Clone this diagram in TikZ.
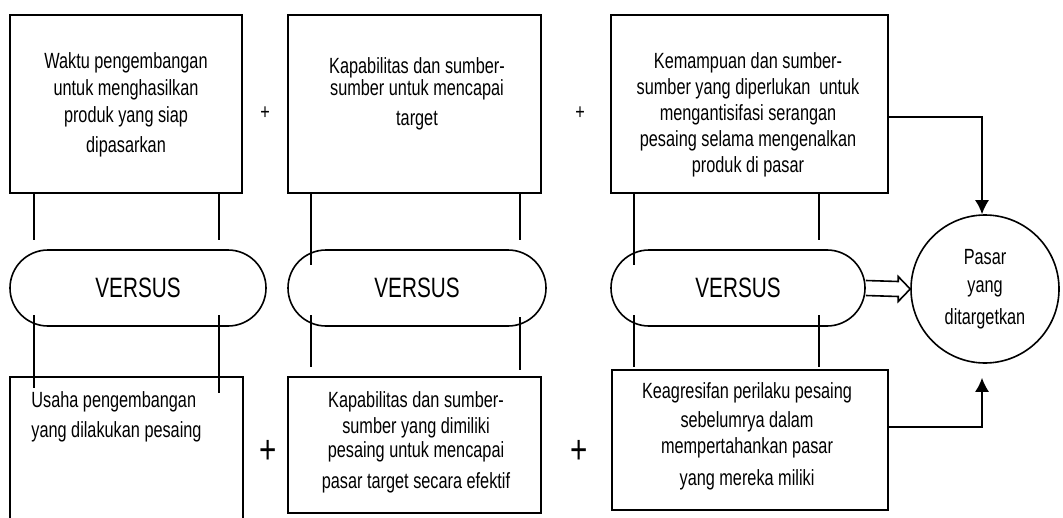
\documentclass[tikz,border=0pt]{standalone}
\usepackage{fontspec}
\setmainfont{Liberation Sans}[FakeStretch=0.74]
\usepackage{tikz}
\usetikzlibrary{calc}
\usetikzlibrary{arrows.meta}
\usetikzlibrary{shapes.misc}
\tikzset{
    kotak/.style={draw, line width=0.8pt, inner sep=0pt},
    teks/.style={align=center, inner sep=0pt, font=\fontsize{11}{13.5}\selectfont},
    lonjong/.style={draw, line width=0.8pt, rounded rectangle, minimum height=38pt, inner sep=0pt, font=\fontsize{14}{16}\selectfont},
    garis/.style={line width=0.8pt},
    panah/.style={line width=0.8pt, -{Latex[length=7pt,width=7pt]}}
}

\begin{document}
\begin{tikzpicture}[x=0.5pt, y=-0.5pt]
\useasboundingbox (0,0) rectangle (1063,518);
\fill[white] (0,0) rectangle (1063,518);
\foreach \p/\x/\y/\w/\h in {w1/126/104/116/89, w2/414.5/104/126.5/89, w3/749.5/104/138.5/89, u1/126.5/462/116.5/85, u2/414.5/445/126.5/68, u3/750/440/138/70}{
    \node[kotak, minimum width=\w pt, minimum height=\h pt] (\p) at (\x,\y) {};
}
\foreach \p/\x/\w in {v1/138/128, v2/417/129, v3/738/127}{
    \node[lonjong, minimum width=\w pt] (\p) at (\x,288) {VERSUS};
}
\node[draw, circle, line width=0.8pt, minimum size=74pt, inner sep=0pt, align=center, font=\fontsize{11}{13.5}\selectfont] (pasar) at (985,289) {Pasar\\[0.5pt] yang\\[2.5pt] ditargetkan};
\node[teks] (w1t) at (126,105) {Waktu pengembangan\\ untuk menghasilkan\\ produk yang siap\\[1.5pt] dipasarkan};
\node[teks] (w2t) at (417,94) {Kapabilitas dan sumber-\\[-2.5pt] sumber untuk mencapai\\[1.5pt] target};
\node[teks, font=\fontsize{11}{13}\selectfont] (w3t) at (748,115) {Kemampuan dan sumber-\\ sumber yang diperlukan\ \ untuk\\ mengantisifasi serangan\\ pesaing selama mengenalkan\\ produk di pasar};
\node[teks, align=left, anchor=west] (u1t) at (31,417) {Usaha pengembangan\\[1.5pt] yang dilakukan pesaing};
\node[teks] (u2t) at (416,442) {Kapabilitas dan sumber-\\[-0.5pt] sumber yang dimiliki\\[-1.5pt] pesaing untuk mencapai\\[2pt] pasar target secara efektif};
\node[teks] (u3t) at (747,436) {Keagresifan perilaku pesaing\\[1pt] sebelumrya dalam\\[-0.5pt] mempertahankan pasar\\[2.5pt] yang mereka miliki};
\foreach \p/\x/\y/\s in {p1/265/113/11, p2/580/113/11, p3/268/452/20, p4/579/452/20}{
    \node[inner sep=0pt, font=\fontsize{\s}{\s}\selectfont] (\p) at (\x,\y) {+};
}
\foreach \x/\ya/\yb in {34/193/240, 219/193/240, 34/315/388, 219/315/393, 311/193/265, 520/193/240, 311/315/367, 520/317/370, 634/193/265, 819/193/240, 634/315/367, 819/315/367}{
    \draw[garis] (\x,\ya) -- (\x,\yb);
}
\draw[panah] ([yshift=-6.5pt]w3.east) -| ([xshift=-1.5pt]pasar.north);
\draw[panah] ([yshift=6.5pt]u3.east) -| ([xshift=-1.5pt,yshift=-7pt]pasar.south);
\draw[garis] ($(v3.east)+(0,-7.5)$) -- ($(pasar.west)+(-12,-7.5)$) -- ($(pasar.west)+(-12,-12.5)$) -- (pasar.west) -- ($(pasar.west)+(-12,12.5)$) -- ($(pasar.west)+(-12,7.5)$) -- ($(v3.east)+(0,7.5)$);
\end{tikzpicture}
\end{document}
